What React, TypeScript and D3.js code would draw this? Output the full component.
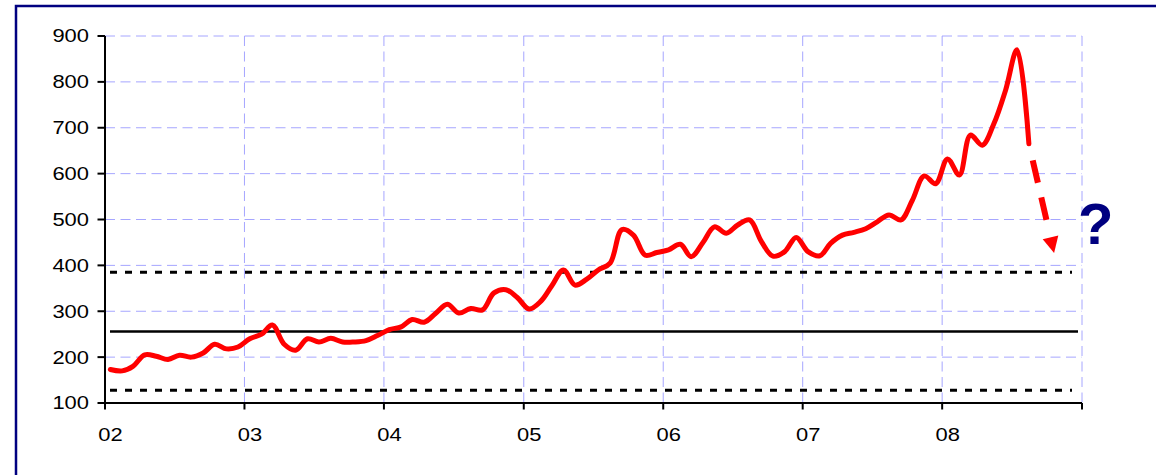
import React from "react";
import * as d3 from "d3";

// ---- data ----
const yearLabels = ["02", "03", "04", "05", "06", "07", "08"];
const yTickValues = [100, 200, 300, 400, 500, 600, 700, 800, 900];

// monthly values, Jan 2002 .. Aug 2008
const priceValues = [
  173, 170, 180, 205, 202, 195, 204, 200, 209, 228, 218, 222,
  240, 250, 270, 228, 215, 240, 233, 241, 233, 233, 236, 247,
  260, 266, 282, 276, 295, 315, 296, 306, 303, 340, 347, 330,
  305, 322, 355, 390, 357, 370, 390, 405, 478, 466, 422, 428,
  434, 446, 419, 450, 484, 470, 488, 499, 452, 420, 430, 461,
  430, 421, 448, 466, 472, 480, 495, 510, 499, 542, 595, 578,
  632, 597, 684, 662, 708, 782, 870, 665,
];
const priceDates = priceValues.map((_, i) => new Date(2002, i, 15));

const meanLevel = 256;
const upperBand = 385;
const lowerBand = 128;

const forecastDates = [new Date(2008, 7, 15), new Date(2008, 9, 20)];
const forecastValues = [665, 427];

// ---- layout ----
const W = 1156;
const H = 475;
const x0 = 105;
const x1 = 1082;
const yTop = 36;
const yBot = 403;

export default function App() {
  const x = d3
    .scaleTime()
    .domain([new Date(2002, 0, 1), new Date(2009, 0, 1)])
    .range([x0, x1]);
  const y = d3.scaleLinear().domain([100, 900]).range([yBot, yTop]);

  const yearTicks = d3.range(2002, 2010).map((yr) => new Date(yr, 0, 1));

  const line = d3
    .line<number>()
    .x((_, i) => x(priceDates[i]))
    .y((d) => y(d))
    .curve(d3.curveCatmullRom.alpha(0.5));

  // forecast arrow
  const p0 = [x(forecastDates[0]), y(forecastValues[0])];
  const p1 = [x(forecastDates[1]), y(forecastValues[1])];
  const dx = p1[0] - p0[0];
  const dy = p1[1] - p0[1];
  const L = Math.sqrt(dx * dx + dy * dy);
  const ux = dx / L;
  const uy = dy / L;
  const headLen = 16;
  const headHalf = 8;
  const bx = p1[0] - ux * headLen;
  const by = p1[1] - uy * headLen;
  const head = [
    [p1[0], p1[1]],
    [bx - uy * headHalf, by + ux * headHalf],
    [bx + uy * headHalf, by - ux * headHalf],
  ];

  const grid = "#a6a6ff";
  const font = "'Liberation Sans', Arial, sans-serif";
  const sx = 1.24;

  return (
    <svg
      width={W}
      height={H}
      style={{ position: "absolute", left: 0, top: 0, background: "#fff" }}
    >
      <rect x={0} y={0} width={W} height={H} fill="#fff" />
      {/* frame */}
      <rect
        x={16}
        y={6}
        width={1300}
        height={700}
        fill="none"
        stroke="#000080"
        strokeWidth={2.5}
      />

      {/* horizontal gridlines */}
      {yTickValues
        .filter((v) => v > 100)
        .map((v) => (
          <line
            key={"hg" + v}
            x1={x0}
            x2={x1}
            y1={y(v)}
            y2={y(v)}
            stroke={grid}
            strokeWidth={1}
            strokeDasharray="10 5.5"
          />
        ))}
      {/* vertical gridlines */}
      {yearTicks.slice(1).map((d, i) => (
        <line
          key={"vg" + i}
          x1={x(d)}
          x2={x(d)}
          y1={yTop}
          y2={yBot}
          stroke={grid}
          strokeWidth={1}
          strokeDasharray="10 5.5"
        />
      ))}

      {/* reference lines */}
      <line
        x1={110}
        x2={1078}
        y1={y(meanLevel)}
        y2={y(meanLevel)}
        stroke="#000"
        strokeWidth={2.5}
      />
      {[upperBand, lowerBand].map((v) => (
        <line
          key={"band" + v}
          x1={110}
          x2={1072}
          y1={y(v)}
          y2={y(v)}
          stroke="#000"
          strokeWidth={3}
          strokeDasharray="7 8"
        />
      ))}

      {/* axes */}
      <line x1={x0} x2={x0} y1={yTop} y2={yBot} stroke="#000" strokeWidth={2} />
      <line x1={x0} x2={x1} y1={yBot} y2={yBot} stroke="#000" strokeWidth={2} />
      {yTickValues.map((v) => (
        <g key={"yt" + v}>
          <line x1={97.5} x2={x0} y1={y(v)} y2={y(v)} stroke="#000" strokeWidth={2} />
          <g transform={`translate(89,${y(v) + 6.4}) scale(${sx},1)`}>
            <text
              x={0}
              y={0}
              textAnchor="end"
              fontFamily={font}
              fontSize={17.7}
              fill="#000"
            >
              {v}
            </text>
          </g>
        </g>
      ))}
      {yearTicks.map((d, i) => (
        <line
          key={"xt" + i}
          x1={x(d)}
          x2={x(d)}
          y1={yBot}
          y2={409.5}
          stroke="#000"
          strokeWidth={2}
        />
      ))}
      {yearLabels.map((lab, i) => (
        <g
          key={"xl" + lab}
          transform={`translate(${x(yearTicks[i]) + 5.5},440.7) scale(${sx},1)`}
        >
          <text
            x={0}
            y={0}
            textAnchor="middle"
            fontFamily={font}
            fontSize={17.7}
            fill="#000"
          >
            {lab}
          </text>
        </g>
      ))}

      {/* price line */}
      <path
        d={line(priceValues) || ""}
        fill="none"
        stroke="#ff0000"
        strokeWidth={5}
        strokeLinejoin="round"
        strokeLinecap="round"
      />

      {/* forecast arrow */}
      <line
        x1={p0[0]}
        y1={p0[1]}
        x2={bx}
        y2={by}
        stroke="#ff0000"
        strokeWidth={6}
        strokeDasharray="0 17 23 15 23 60"
      />
      <polygon points={head.map((p) => p.join(",")).join(" ")} fill="#ff0000" />

      <text
        x={1078}
        y={243.5}
        fontFamily={font}
        fontWeight="bold"
        fontSize={58}
        fill="#000080"
      >
        ?
      </text>
    </svg>
  );
}
